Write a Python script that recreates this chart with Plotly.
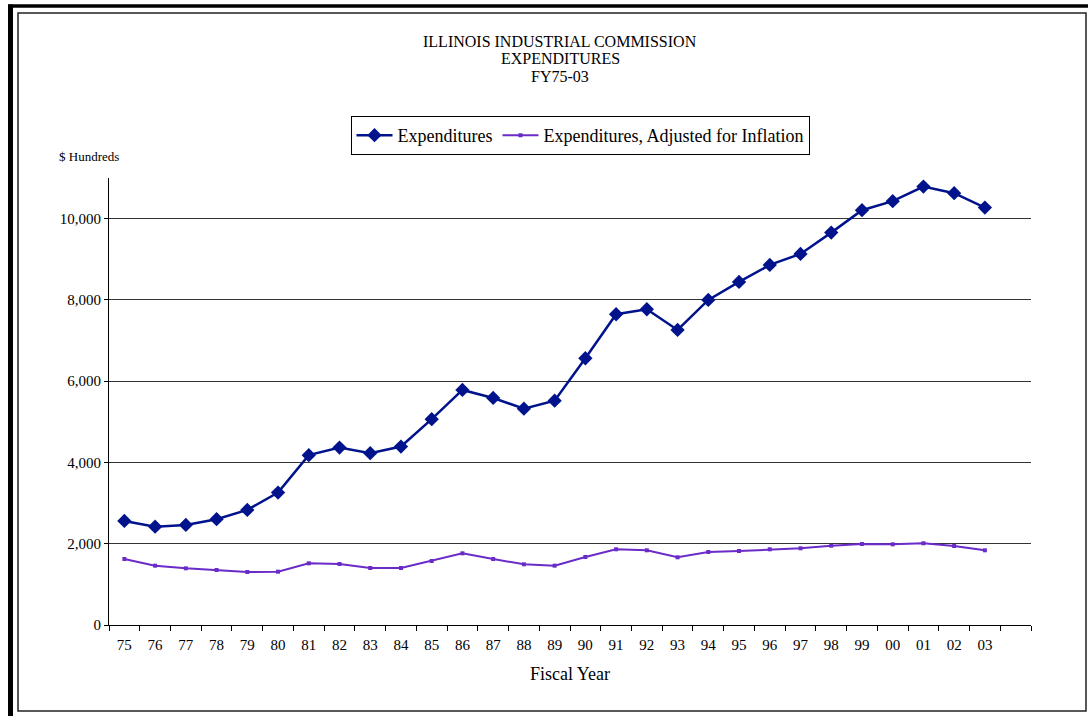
import plotly.graph_objects as go

years = ["75", "76", "77", "78", "79", "80", "81", "82", "83", "84", "85", "86", "87", "88", "89",
         "90", "91", "92", "93", "94", "95", "96", "97", "98", "99", "00", "01", "02", "03"]
expenditures = [2560, 2420, 2463, 2603, 2833, 3259, 4180, 4367, 4229, 4392, 5066, 5784, 5587, 5324,
                5521, 6564, 7647, 7770, 7261, 7999, 8442, 8861, 9132, 9656, 10207, 10429, 10788, 10626, 10271]
adjusted = [1624, 1460, 1395, 1354, 1304, 1312, 1518, 1501, 1403, 1403, 1575, 1764, 1624, 1494, 1460,
            1673, 1863, 1838, 1666, 1797, 1821, 1863, 1887, 1952, 1994, 1986, 2011, 1944, 1838]
y_ticks = [0, 2000, 4000, 6000, 8000, 10000]

W, H = 1088, 716
L, R, T, B = 109, 1031, 178, 625


def px(x):
    return (x - L) / (R - L)


def py(y):
    return (B - y) / (B - T)


FONT = "Liberation Serif"
idx = list(range(len(years)))

fig = go.Figure()
fig.add_trace(go.Scatter(
    x=idx, y=expenditures, name="Expenditures", mode="lines+markers",
    line=dict(color="#00138C", width=2.5),
    marker=dict(symbol="diamond", size=11, color="#00138C"),
))
fig.add_trace(go.Scatter(
    x=idx, y=adjusted, name="Expenditures, Adjusted for Inflation", mode="lines+markers",
    line=dict(color="#6A2BC8", width=2),
    marker=dict(symbol="square", size=4, color="#6A2BC8"),
))

fig.update_layout(
    width=W, height=H,
    margin=dict(l=L, r=W - R, t=T, b=H - B, autoexpand=False),
    paper_bgcolor="white", plot_bgcolor="white",
    font=dict(family=FONT, color="black", size=15),
    showlegend=True,
    legend=dict(
        orientation="h", x=px(580), xanchor="center", y=py(116), yanchor="top",
        bordercolor="black", borderwidth=1, bgcolor="white",
        font=dict(family=FONT, size=18, color="black"),
        itemwidth=36, tracegroupgap=0,
    ),
    xaxis=dict(
        range=[-0.5, 29.5], tickmode="array", tickvals=idx, ticktext=years,
        ticks="", showgrid=False, zeroline=False, ticklabelstandoff=6,
        showline=True, linecolor="black", linewidth=1,
        tickfont=dict(family=FONT, size=15, color="black"),
        minor=dict(tickmode="array", tickvals=[i - 0.5 for i in range(31)],
                   ticks="outside", ticklen=5, tickcolor="black", showgrid=False),
    ),
    yaxis=dict(
        range=[0, 11000], tickmode="array", tickvals=y_ticks, tickformat=",",
        ticks="outside", ticklen=4, tickcolor="black",
        showgrid=True, gridcolor="#333333", gridwidth=1, zeroline=False,
        showline=True, linecolor="black", linewidth=1,
        tickfont=dict(family=FONT, size=15, color="black"),
    ),
)

title_lines = ["ILLINOIS INDUSTRIAL COMMISSION", "EXPENDITURES", "FY75-03"]
for i, t in enumerate(title_lines):
    fig.add_annotation(x=px(560), y=py(41 + 17.5 * i), xref="paper", yref="paper",
                       text=t, showarrow=False, xanchor="center", yanchor="middle",
                       font=dict(family=FONT, size=16, color="black"))

fig.add_annotation(x=px(57), y=py(157), xref="paper", yref="paper", text="$ Hundreds",
                   showarrow=False, xanchor="left", yanchor="middle",
                   font=dict(family=FONT, size=13, color="black"))
fig.add_annotation(x=px(570), y=py(674), xref="paper", yref="paper", text="Fiscal Year",
                   showarrow=False, xanchor="center", yanchor="middle",
                   font=dict(family=FONT, size=18, color="black"))

# frame
fig.add_shape(type="rect", xref="paper", yref="paper",
              x0=px(18), x1=px(1086), y0=py(711), y1=py(13),
              line=dict(color="#222222", width=1.5), layer="below")
fig.add_shape(type="line", xref="paper", yref="paper",
              x0=px(8), x1=px(1088), y0=py(6), y1=py(6),
              line=dict(color="black", width=3.5))
fig.add_shape(type="line", xref="paper", yref="paper",
              x0=px(10.5), x1=px(10.5), y0=py(4.5), y1=py(716),
              line=dict(color="black", width=5))

fig.write_html("out.html", config={"displayModeBar": False},
               post_script="document.body.style.margin='0px';document.body.style.padding='0px';")
